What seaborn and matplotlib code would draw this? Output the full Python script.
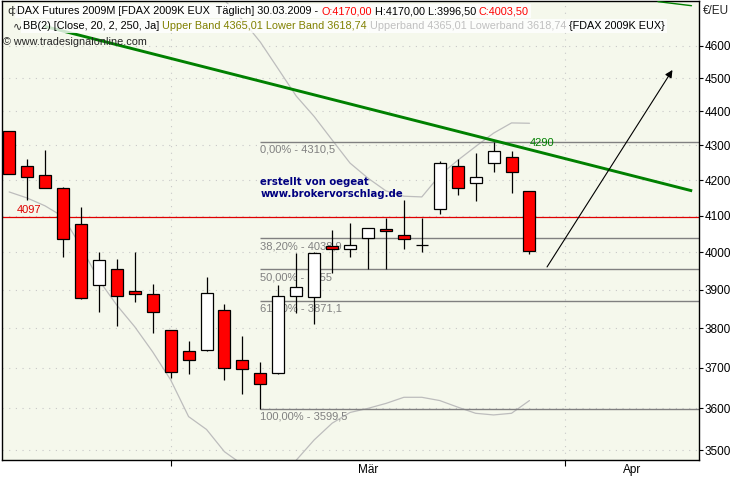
import numpy as np
import pandas as pd
import matplotlib
matplotlib.use("Agg")
import matplotlib.pyplot as plt
import seaborn as sns
from matplotlib.ticker import FixedLocator, FixedFormatter, NullLocator

# ---------------- data ----------------
start_date = "2009-02-17"
end_date = "2009-03-30"
opens  = [4342, 4240, 4214, 4177, 4077, 3912, 3955, 3896, 3888, 3795, 3742, 3745, 3847, 3719, 3686,
          3686, 3883, 3882, 4017, 4009, 4040, 4064, 4047, 4019, 4118, 4240, 4191, 4250, 4266, 4170]
highs  = [4342, 4261, 4287, 4180, 4126, 4001, 3982, 4001, 3915, 3797, 3768, 3934, 3862, 3780, 3715,
          3913, 3999, 4000, 4061, 4080, 4068, 4095, 4144, 4095, 4256, 4260, 4279, 4310.5, 4284, 4170]
lows   = [4218, 4144, 4177, 3988, 3876, 3843, 3806, 3869, 3789, 3675, 3685, 3742, 3669, 3634, 3599.5,
          3684, 3839, 3810, 3946, 3988, 3955, 3955, 4010, 4002, 4105, 4158, 4142, 4224, 4165, 3996.5]
closes = [4218, 4208, 4179, 4036, 3878, 3979, 3883, 3888, 3843, 3689, 3719, 3891, 3699, 3696, 3659,
          3883, 3907, 3998, 4009, 4019, 4066, 4058, 4036, 4019, 4248, 4177, 4208, 4285, 4224, 4003.5]
upper_band = [None] * 11 + [4815, 4744, 4681, 4611, 4528, 4446, 4385, 4316, 4249, 4206, 4170, 4155,
                            4153, 4214, 4257, 4297, 4336, 4366, 4365]
lower_band = [4167, 4150, 4128, 4098, 4016, 3926, 3860, 3804, 3740, 3670, 3580, 3549, 3496, 3466, 3440,
              3440, 3476, 3524, 3564, 3590, 3600, 3612, 3627, 3627, 3619, 3603, 3588, 3584, 3588, 3619]
y_ticks = [3500, 3600, 3700, 3800, 3900, 4000, 4100, 4200, 4300, 4400, 4500, 4600]
month_labels = ["Mär", "Apr"]
fib_levels = [4310.5, 4038.9, 3955.0, 3871.1, 3599.5]
fib_labels = ["0,00% - 4310,5", "38,20% - 4038,9", "50,00% - 3955", "61,80% - 3871,1", "100,00% - 3599,5"]
fib_anchor_date = "2009-03-09"
support_level = 4097
trend_points = [4660, 4170]          # values of the falling trend line at its two ends
trend_label = "4290"
top_trend_points = [4739, 4726]
arrow_points = [3961, 4525]

# ---------------- setup ----------------
sns.set_theme(style="white")
plt.rcParams["font.family"] = ["Liberation Sans", "DejaVu Sans"]

W, H = 740, 480
fig = plt.figure(figsize=(W / 100, H / 100), dpi=100)
fig.patch.set_facecolor("white")
ax = fig.add_axes([2 / W, 1 - 460 / H, 697 / W, 459 / H])
ax.set_facecolor("#F5F8EC")
ax.set_yscale("log")
XMIN, XMAX = -0.4, 38.45
ax.set_xlim(XMIN, XMAX)
ax.set_ylim(3476.5, 4741)

days = pd.bdate_range(start_date, "2009-04-30")
n = len(opens)
idx = np.arange(n)
df = pd.DataFrame({"x": idx, "open": opens, "high": highs, "low": lows, "close": closes,
                   "upper": upper_band, "lower": lower_band})
df["upper"] = pd.to_numeric(df["upper"])

# month ticks (first trading day of each month)
month_first = [i for i in range(1, len(days)) if days[i].month != days[i - 1].month]
month_first = [m for m in month_first if m < XMAX]
label_pos = []
for k, m in enumerate(month_first):
    nxt = month_first[k + 1] if k + 1 < len(month_first) else XMAX
    label_pos.append((m + nxt) / 2)

# grid
for t in y_ticks:
    ax.axhline(t, color="#C8C8C8", lw=0.8, ls=(0, (1, 5)), zorder=0)
for m in month_first:
    ax.axvline(m, color="#C8C8C8", lw=0.8, ls=(0, (1, 5)), zorder=0)

# Bollinger bands
up = df.dropna(subset=["upper"])
sns.lineplot(x=up["x"], y=up["upper"], ax=ax, color="#BDBDBD", lw=0.9, zorder=1)
sns.lineplot(x=df["x"], y=df["lower"], ax=ax, color="#BDBDBD", lw=0.9, zorder=1)

# support line
ax.axhline(support_level, color="#E00000", lw=0.9, zorder=2)
ax.annotate(str(support_level), xy=(0.4, support_level), xytext=(0, 2), textcoords="offset pixels",
            color="#E00000", fontsize=8, va="bottom", ha="left")

# Fibonacci levels
fib_x = int(np.where(days == pd.Timestamp(fib_anchor_date))[0][0])
for lev, lab in zip(fib_levels, fib_labels):
    ax.hlines(lev, fib_x, XMAX, color="#808080", lw=1.0, zorder=2)
    ax.annotate(lab, xy=(fib_x, lev), xytext=(0, -3), textcoords="offset pixels",
                color="#808080", fontsize=8, va="top", ha="left", zorder=2)

# candles
ax.vlines(df["x"], df["low"], df["high"], color="black", lw=0.9, zorder=4)
body = df[df["open"] != df["close"]]
colors = np.where(body["close"] < body["open"], "#FF0000", "#FFFFFF")
ax.bar(body["x"], (body["close"] - body["open"]).abs(), bottom=np.minimum(body["open"], body["close"]),
       width=0.67, color=colors, edgecolor="black", linewidth=0.9, zorder=5)
doji = df[df["open"] == df["close"]]
ax.hlines(doji["open"], doji["x"] - 0.335, doji["x"] + 0.335, color="black", lw=0.9, zorder=5)

# trend lines
tx = [2.0, 38.07]
ax.plot(tx, trend_points, color="#008000", lw=2.1, zorder=6, solid_capstyle="butt")
t_val = np.exp(np.interp(n - 1, tx, np.log(trend_points)))
ax.annotate(trend_label, xy=(n - 1, t_val), xytext=(0, 2), textcoords="offset pixels",
            color="#008000", fontsize=8, va="bottom", ha="left", zorder=6)
ax.plot([36.16, 38.03], top_trend_points, color="#008000", lw=1.0, zorder=6)

# arrow
ax.annotate("", xy=(36.97, arrow_points[1]), xytext=(29.98, arrow_points[0]),
            arrowprops=dict(arrowstyle="-|>", color="black", lw=0.8, mutation_scale=11,
                            shrinkA=0, shrinkB=0), zorder=7)

# author note
ax.annotate("erstellt von oegeat", xy=(fib_x, 4188), color="#000080", fontsize=7.3,
            fontweight="bold", va="baseline", ha="left", zorder=7, family="DejaVu Sans")
ax.annotate("www.brokervorschlag.de", xy=(fib_x, 4152), color="#000080", fontsize=7.3,
            fontweight="bold", va="baseline", ha="left", zorder=7, family="DejaVu Sans")

# axes styling
for s in ax.spines.values():
    s.set_color("black")
    s.set_linewidth(1.0)
ax.yaxis.tick_right()
ax.yaxis.set_major_locator(FixedLocator(y_ticks))
ax.yaxis.set_major_formatter(FixedFormatter([str(t) for t in y_ticks]))
ax.yaxis.set_minor_locator(NullLocator())
ax.tick_params(axis="y", which="major", right=True, left=False, direction="out", length=3, width=0.8,
               pad=1, labelsize=8.5, colors="black")
ax.xaxis.set_major_locator(FixedLocator(month_first))
ax.xaxis.set_major_formatter(FixedFormatter([""] * len(month_first)))
ax.xaxis.set_minor_locator(FixedLocator(label_pos))
ax.xaxis.set_minor_formatter(FixedFormatter(month_labels[:len(label_pos)]))
ax.tick_params(axis="x", which="major", bottom=True, direction="out", length=4, width=0.8, colors="black")
ax.tick_params(axis="x", which="minor", bottom=True, length=0, pad=3, labelsize=8.5, colors="black")
ax.set_xlabel("")
ax.set_ylabel("")

fig.text(703 / W, 1 - 14 / H, "€/EU", fontsize=8.5, va="baseline", ha="left")

# header
HFS = 7.8
def chain(segments, x_px, y_px, box=None):
    prev = fig.text(x_px / W, 1 - y_px / H, segments[0][0], color=segments[0][1], fontsize=HFS,
                    va="baseline", ha="left", zorder=20, bbox=box)
    for txt, col in segments[1:]:
        gap = 3 * (len(txt) - len(txt.lstrip(" ")))
        prev = ax.annotate(
            txt.strip(" "), xy=(1, 0), xycoords=prev, xytext=(gap, 0), textcoords="offset pixels",
            color=col, fontsize=HFS, va="bottom", ha="left", zorder=20, bbox=box,
            annotation_clip=False)
    return prev

wbox = dict(facecolor="white", edgecolor="none", pad=1.2, alpha=0.8)
fig.text(7 / W, 1 - 14 / H, "ф", fontsize=8, va="baseline", ha="left", family="DejaVu Sans")
chain([("DAX Futures 2009M [FDAX 2009K EUX  Täglich] 30.03.2009 -", "black"),
       (" O:4170,00", "#FF0000"),
       (" H:4170,00 L:3996,50", "black"),
       (" C:4003,50", "#FF0000")], 17, 14, wbox)
fig.text(13 / W, 1 - 29 / H, "∿", fontsize=8, va="baseline", ha="left", family="DejaVu Sans")
chain([("BB(2) [Close, 20, 2, 250, Ja]", "black"),
       (" Upper Band 4365,01 Lower Band 3618,74", "#808000"),
       (" Upperband 4365,01 Lowerband 3618,74", "#C0C0C0"),
       (" {FDAX 2009K EUX}", "black")], 23, 29, wbox)
fig.text(3 / W, 1 - 45 / H, "© www.tradesignalonline.com", fontsize=HFS, va="baseline", ha="left")

fig.savefig("out.png", dpi=100)
